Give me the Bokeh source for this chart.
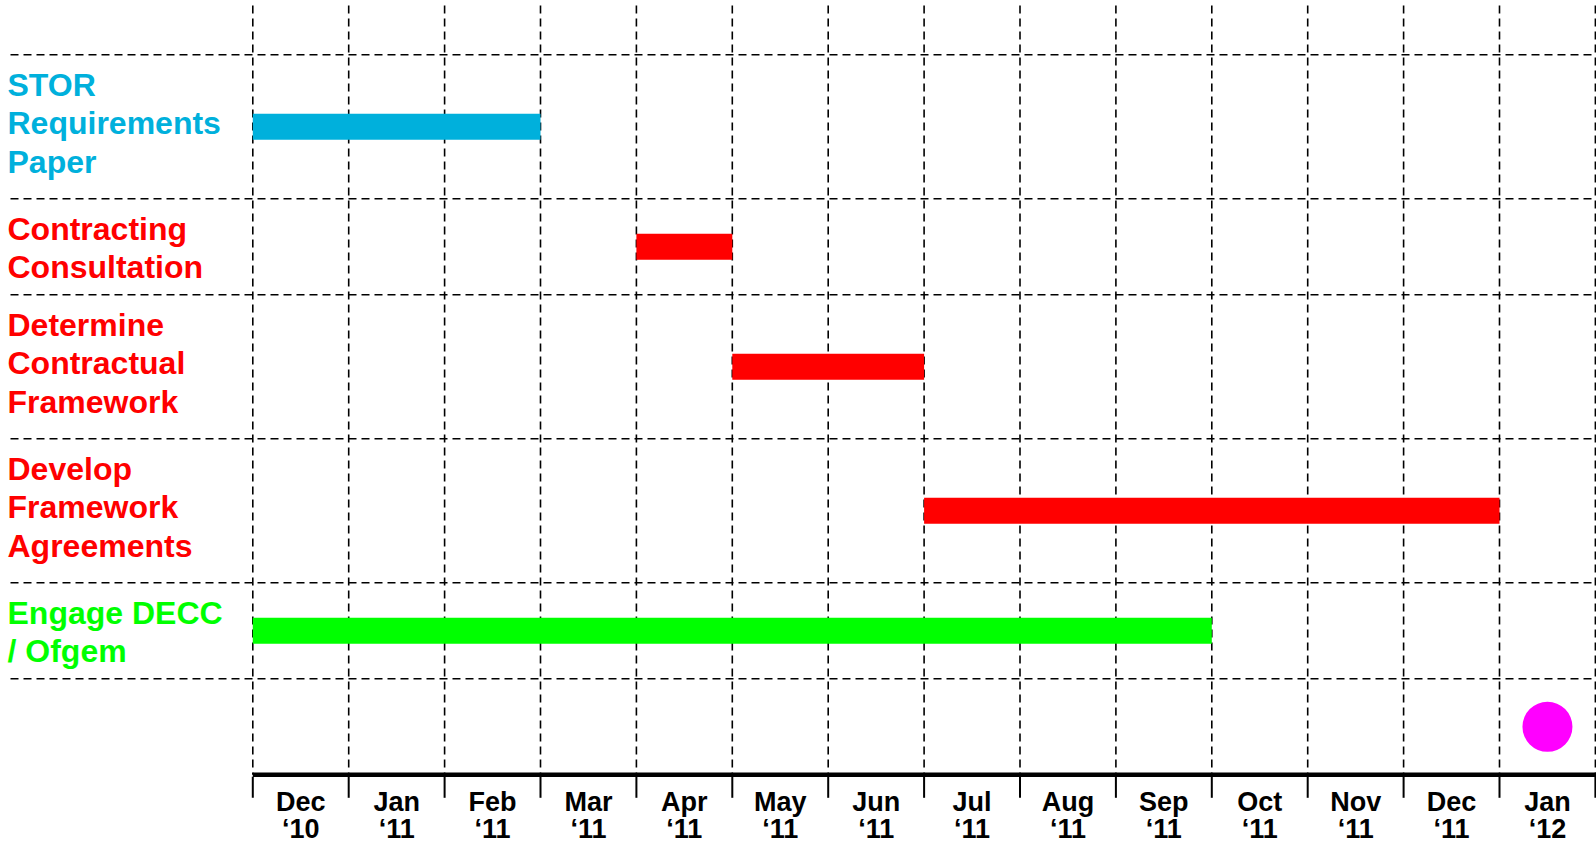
from bokeh.plotting import figure
from bokeh.models import Range1d, ColumnDataSource
from bokeh.core.properties import value
from bokeh.embed import file_html
from bokeh.resources import INLINE

# ---- data ----
months = ["Dec", "Jan", "Feb", "Mar", "Apr", "May", "Jun", "Jul", "Aug", "Sep", "Oct", "Nov", "Dec", "Jan"]
years = ["\u201810", "\u201811", "\u201811", "\u201811", "\u201811", "\u201811", "\u201811",
         "\u201811", "\u201811", "\u201811", "\u201811", "\u201811", "\u201811", "\u201812"]
tasks = ["STOR\nRequirements\nPaper", "Contracting\nConsultation", "Determine\nContractual\nFramework",
         "Develop\nFramework\nAgreements", "Engage DECC\n/ Ofgem"]
task_lines = [3, 2, 3, 3, 2]
task_start = [0, 4, 5, 7, 0]      # month index (Dec '10 = 0)
task_end = [3, 5, 7, 13, 10]
task_colors = ["#00B0DC", "#FF0000", "#FF0000", "#FF0000", "#00FF00"]
milestone_month = [13]
milestone_color = "#FF00FF"
milestone_row_lines = 2

# ---- layout ----
W, H = 1596, 845
col_px = 95.9
x0_px = 252.3            # px of month 0
row_px = 48.0
y0_px = 54.3             # px of first row boundary

xr = Range1d(-x0_px / col_px, (W - x0_px) / col_px)
yr = Range1d((H - y0_px) / row_px, -y0_px / row_px)

p = figure(width=W, height=H, x_range=xr, y_range=yr, output_backend="svg",
           toolbar_location=None, x_axis_location=None, y_axis_location=None,
           min_border=0, min_border_left=0, min_border_right=0,
           min_border_top=0, min_border_bottom=0)
p.grid.visible = False
p.outline_line_color = None
p.background_fill_color = "white"
p.border_fill_color = "white"

# row boundaries
bounds = [0]
for n in task_lines:
    bounds.append(bounds[-1] + n)
axis_u = bounds[-1] + milestone_row_lines
centers = [(bounds[i] + bounds[i + 1]) / 2 for i in range(len(task_lines))]
ms_center = (bounds[-1] + axis_u) / 2

n_cols = len(months)
dash = "8 5"
# horizontal dashed gridlines
p.segment(x0=[xr.start + 10 / col_px] * len(bounds), x1=[n_cols + 1] * len(bounds),
          y0=bounds, y1=bounds, line_color="black", line_width=1.6, line_dash=dash)
# vertical dashed gridlines
vx = list(range(n_cols + 1))
p.segment(x0=vx, x1=vx, y0=[yr.end + 5 / row_px] * len(vx), y1=[axis_u] * len(vx),
          line_color="black", line_width=1.6, line_dash=dash)

# bars
src = ColumnDataSource(dict(y=centers, left=task_start, right=task_end, color=task_colors))
p.hbar(y="y", left="left", right="right", height=26 / row_px, fill_color="color",
       line_color=None, source=src)

# milestone
p.scatter(x=[m + 0.5 for m in milestone_month], y=[ms_center], size=50,
          fill_color=milestone_color, line_color=None)

# axis line + ticks
p.segment(x0=[0], x1=[n_cols + 1], y0=[axis_u], y1=[axis_u], line_color="black",
          line_width=4.5, line_cap="butt")
p.segment(x0=vx, x1=vx, y0=[axis_u + 2 / row_px] * len(vx), y1=[axis_u + 23 / row_px] * len(vx),
          line_color="black", line_width=2)

# month labels
mx = [i + 0.5 for i in range(n_cols)]
p.text(x=mx, y=[axis_u + 27 / row_px] * n_cols, text=months, text_align="center",
       text_baseline="middle", text_font=value("Liberation Sans"), text_font_style="bold",
       text_font_size="27px", text_color="black")
p.text(x=mx, y=[axis_u + 54 / row_px] * n_cols, text=years, text_align="center",
       text_baseline="middle", text_font=value("Liberation Sans"), text_font_style="bold",
       text_font_size="27px", text_color="black")

# task labels, one text per line
lx, ly, lt, lc = [], [], [], []
for i, t in enumerate(tasks):
    for j, line in enumerate(t.split("\n")):
        lx.append(xr.start + 7 / col_px)
        ly.append(bounds[i] + (29.8 + 38.7 * j) / row_px)
        lt.append(line)
        lc.append(task_colors[i])
p.text(x=lx, y=ly, text=lt, text_align="left", text_baseline="middle",
       text_font=value("Liberation Sans"), text_font_style="bold",
       text_font_size="32px", text_color=lc)

open("out.html", "w").write(file_html(p, INLINE))
